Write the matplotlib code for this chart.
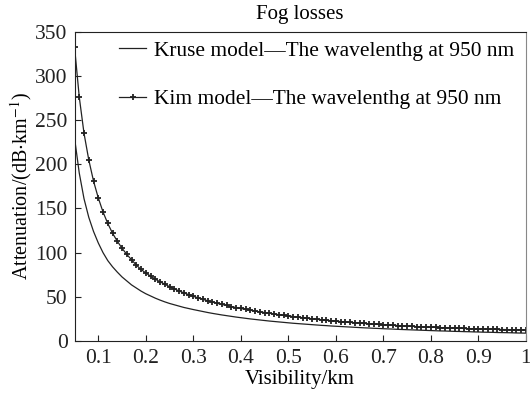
import matplotlib
matplotlib.use('Agg')
import matplotlib.pyplot as plt
import numpy as np

plt.rcParams['font.family'] = ['Liberation Serif', 'DejaVu Serif']
plt.rcParams['mathtext.fontset'] = 'stix'

# visibility grid (km), one point every 0.01 km
visibility = np.round(np.arange(0.05, 1.0001, 0.01), 2)

# Kim model (dB/km)
kim = [333, 276, 235, 205, 181, 162, 146, 133, 122, 113,
       105, 98, 92, 86, 81, 77, 73.5, 70, 67, 64.3,
       61.5, 59, 56.7, 54.5, 52.5, 50.6, 48.8, 47.2, 45.6, 44.1,
       42.7, 41.4, 40.2, 39.0, 37.9, 36.8, 35.8, 34.8, 33.9, 33.0,
       32.2, 31.4, 30.6, 29.8, 29.1, 28.4, 27.7, 27.0, 26.4, 25.8,
       25.2, 24.6, 24.1, 23.5, 23.0, 22.5, 22.0, 21.6, 21.1, 20.7,
       20.3, 19.9, 19.5, 19.1, 18.8, 18.4, 18.1, 17.8, 17.5, 17.2,
       16.9, 16.6, 16.3, 16.1, 15.8, 15.6, 15.4, 15.2, 15.0, 14.8,
       14.6, 14.4, 14.2, 14.0, 13.9, 13.7, 13.6, 13.4, 13.3, 13.1,
       13.0, 12.9, 12.8, 12.6, 12.5, 12.4]

# Kruse model (dB/km)
kruse = [230, 190, 161, 140, 124, 111, 100, 91, 84, 78,
         72.5, 68, 63.5, 60, 56.5, 53.5, 51, 48.5, 46.3, 44.3,
         42.5, 41, 39.5, 38, 36.8, 35.6, 34.5, 33.4, 32.3, 31.3,
         30.4, 29.5, 28.7, 27.9, 27.1, 26.4, 25.7, 25.0, 24.4, 23.8,
         23.2, 22.6, 22.1, 21.6, 21.1, 20.6, 20.1, 19.7, 19.3, 18.9,
         18.5, 18.1, 17.7, 17.4, 17.0, 16.7, 16.4, 16.1, 15.8, 15.5,
         15.2, 14.9, 14.7, 14.4, 14.2, 13.9, 13.7, 13.5, 13.2, 13.0,
         12.8, 12.6, 12.4, 12.2, 12.0, 11.8, 11.6, 11.4, 11.3, 11.1,
         10.9, 10.8, 10.6, 10.5, 10.3, 10.2, 10.0, 9.9, 9.8, 9.6,
         9.5, 9.4, 9.3, 9.1, 9.0, 8.9]

xticks = [0.1, 0.2, 0.3, 0.4, 0.5, 0.6, 0.7, 0.8, 0.9, 1]
xticklabels = ['0.1', '0.2', '0.3', '0.4', '0.5', '0.6', '0.7', '0.8', '0.9', '1']
yticks = [0, 50, 100, 150, 200, 250, 300, 350]

fig = plt.figure(figsize=(5.3, 3.93), dpi=100)
ax = fig.add_axes([0.1406, 0.1323, 0.8514, 0.7870])

ax.plot(visibility, kruse, color='#222222', lw=0.9,
        label='Kruse model\u2014The wavelenthg at 950 nm')
ax.plot(visibility, kim, color='#222222', lw=0.9, marker='+', ms=4, mew=1.3,
        label='Kim model\u2014The wavelenthg at 950 nm')

ax.set_xlim(0.05, 1.0)
ax.set_ylim(0, 350)
ax.set_xticks(xticks)
ax.set_xticklabels(xticklabels)
ax.set_yticks(yticks)
ax.tick_params(direction='in', length=4, labelsize=15.5, width=0.8, colors='#222222')
ax.tick_params(axis='x', pad=6)
ax.tick_params(axis='y', pad=5)
for s in ['left', 'bottom', 'top']:
    ax.spines[s].set_color('#222222')
ax.spines['right'].set_color('#888888')

ax.set_xlabel('Visibility/km', fontsize=15, labelpad=1)
ax.set_ylabel('Attenuation/(dB$\\cdot$km$^{-1}$)', fontsize=14.5, labelpad=1)
ax.set_title('Fog losses', fontsize=15, pad=9)

ax.legend(loc='upper left', bbox_to_anchor=(0.07, 1.012), frameon=False,
          fontsize=15.4, handlelength=1.27, handletextpad=0.37, labelspacing=1.34,
          borderaxespad=0.2)

fig.savefig('out.png', dpi=100)
